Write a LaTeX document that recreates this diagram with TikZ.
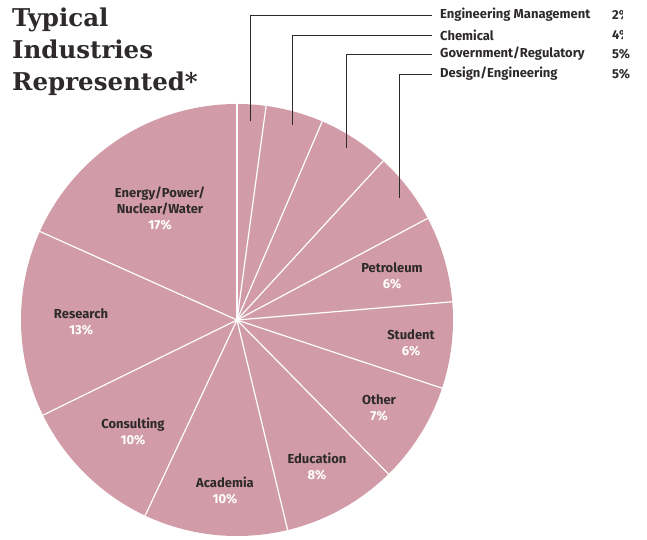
\documentclass[tikz,border=0pt]{standalone}
\usepackage{fontspec}
\newfontfamily\labelfont{Fira Sans}
\newfontfamily\titlefont{DejaVu Serif}
\definecolor{piepink}{HTML}{D19CA8}
\definecolor{inkgrey}{HTML}{2E2A2B}
\tikzset{
  slicelabel/.style={align=center,text=inkgrey,font=\labelfont\bfseries\fontsize{13}{16}\selectfont},
  keylabel/.style={anchor=west,inner xsep=8pt,inner ysep=0pt,text=inkgrey,font=\labelfont\bfseries\fontsize{13}{15}\selectfont},
  leader/.style={draw=inkgrey,line width=0.8pt}
}
\begin{document}
\begin{tikzpicture}[x=1pt,y=1pt]
\useasboundingbox (0,0) rectangle (647,540);
% title
\node [anchor=north west,align=left,inner sep=0pt,text=inkgrey,
  font=\titlefont\bfseries\fontsize{24.5}{32}\selectfont] (title) at (12,532)
  {Typical\\Industries\\Represented*};
% pie
\coordinate (c) at (237,220);
\fill[piepink] (c) circle [radius=216];
\foreach \p in {0,2,6,11,16,22,28,35,43,53,63,76}
  \draw[white,line width=1.2pt] (c) -- ++({90-\p/93*360}:216);
% slice labels
\node [slicelabel] (energy) at (160,332) {Energy/Power/\\Nuclear/Water\\\textcolor{white}{17\%}};
\node [slicelabel] (research) at (81,218) {Research\\\textcolor{white}{13\%}};
\node [slicelabel] (consulting) at (133,109) {Consulting\\\textcolor{white}{10\%}};
\node [slicelabel] (academia) at (225,50) {Academia\\\textcolor{white}{10\%}};
\node [slicelabel] (education) at (317,74) {Education\\\textcolor{white}{8\%}};
\node [slicelabel] (other) at (379,132) {Other\\\textcolor{white}{7\%}};
\node [slicelabel] (student) at (411,197) {Student\\\textcolor{white}{6\%}};
\node [slicelabel] (petroleum) at (392,264) {Petroleum\\\textcolor{white}{6\%}};
% key for the small slices
\node [keylabel] (engmgmt) at (432,525) {Engineering Management};
\node [keylabel] (chemical) at (432,505) {Chemical};
\node [keylabel] (govreg) at (432,486) {Government/Regulatory};
\node [keylabel] (design) at (432,466) {Design/Engineering};
\begin{scope}
\clip (0,0) rectangle (622,540);
\node [keylabel,inner xsep=0pt] (engmgmtpc) at (612,525) {2\%};
\node [keylabel,inner xsep=0pt] (chemicalpc) at (612,505) {4\%};
\end{scope}
\node [keylabel,inner xsep=0pt] (govregpc) at (612,486) {5\%};
\node [keylabel,inner xsep=0pt] (designpc) at (612,466) {5\%};
\coordinate (engmgmtend) at (250,419);
\coordinate (chemicalend) at (292,415);
\coordinate (govregend) at (346,392);
\coordinate (designend) at (399,342);
\draw[leader] (engmgmtend) |- (engmgmt.west);
\draw[leader] (chemicalend) |- (chemical.west);
\draw[leader] (govregend) |- (govreg.west);
\draw[leader] (designend) |- (design.west);
\end{tikzpicture}
\end{document}
